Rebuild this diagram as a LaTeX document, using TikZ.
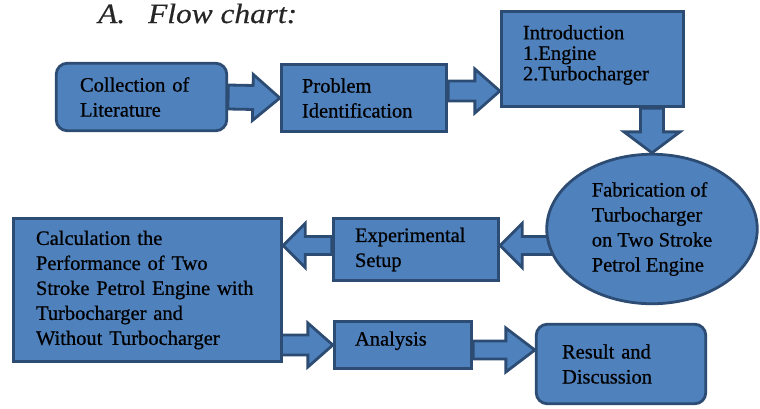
\documentclass[tikz,border=0pt]{standalone}
\usepackage{fontspec}
\setmainfont[FakeBold=0.7]{Liberation Serif}
\newfontfamily\titlefont[FakeStretch=1.12,FakeBold=0.5]{Liberation Serif}
\usetikzlibrary{shapes.geometric,calc}
\definecolor{boxblue}{HTML}{4F81BD}
\definecolor{boxline}{HTML}{2D4C73}
\pgfdeclarelayer{bg}
\pgfsetlayers{bg,main}
\tikzset{
  bkw/.store in=\bkW, bkh/.store in=\bkH, bkl/.store in=\bkL,
  bkw=10pt, bkh=22pt, bkl=25pt,
  boxbase/.style={draw=boxline, fill=boxblue, line width=2.8pt, text=black,
    font=\fontsize{20.5}{25}\selectfont, align=left},
  sqbox/.style={boxbase, rectangle},
  rbox/.style={boxbase, rectangle, rounded corners=11pt},
  ellbox/.style={boxbase, ellipse, inner sep=0pt},
  barrow/.style={draw=boxline, fill=boxblue, line width=2.8pt, line join=miter,
    to path={
      ($(\tikztostart)!\bkW!90:(\tikztotarget)$)
      -- ($($(\tikztotarget)!\bkL!(\tikztostart)$)!\bkW!90:(\tikztotarget)$)
      -- ($($(\tikztotarget)!\bkL!(\tikztostart)$)!\bkH!90:(\tikztotarget)$)
      -- (\tikztotarget)
      -- ($($(\tikztotarget)!\bkL!(\tikztostart)$)!\bkH!-90:(\tikztotarget)$)
      -- ($($(\tikztotarget)!\bkL!(\tikztostart)$)!\bkW!-90:(\tikztotarget)$)
      -- ($(\tikztostart)!\bkW!-90:(\tikztotarget)$)
      -- cycle}}
}
\begin{document}
\begin{tikzpicture}[x=1pt,y=-1pt]
\useasboundingbox (0,0) rectangle (760,408);

\node[anchor=base west, inner sep=0pt, font=\titlefont\itshape\fontsize{28}{30}\selectfont, text=black!85] (title) at (98,23) {A.\hspace{23pt}Flow chart:};

\node[rbox, minimum width=170.5pt, minimum height=67.5pt, inner xsep=23.75pt, text width=123pt] (b1) at (141.5,97) {Collection of\\Literature};
\node[sqbox, minimum width=165.5pt, minimum height=67.5pt, inner xsep=20.75pt, text width=124pt] (b2) at (364,98) {Problem\\Identification};
\node[sqbox, minimum width=182.5pt, minimum height=95.5pt, inner xsep=21.75pt, text width=139pt, font=\fontsize{20.5}{20.5}\selectfont] (b3) at (592.5,59) {Introduction\\1.Engine\\2.Turbocharger\\[-8pt]\mbox{}};
\node[ellbox, minimum width=210.5pt, minimum height=149.5pt] (ell) at (652,229) {Fabrication of\\Turbocharger\\on Two Stroke\\Petrol Engine};
\node[sqbox, minimum width=165.5pt, minimum height=62.5pt, inner xsep=21.75pt, text width=122pt] (exp) at (416,249.5) {Experimental\\Setup};
\node[sqbox, minimum width=268.5pt, minimum height=143.5pt, inner xsep=22.75pt, text width=223pt] (calc) at (147.5,290) {\mbox{Calculation the}\\\mbox{Performance of Two}\\\mbox{Stroke Petrol Engine with}\\\mbox{Turbocharger and}\\\mbox{Without Turbocharger}};
\node[sqbox, minimum width=137.5pt, minimum height=47.5pt, inner xsep=20.75pt, text width=96pt] (ana) at (403,345) {Analysis\\[-12pt]\mbox{}};
\node[rbox, minimum width=169.5pt, minimum height=79.5pt, inner xsep=25.75pt, text width=118pt] (res) at (621,364) {Result and\\Discussion};

\coordinate (a2s) at ([yshift=7pt]b2.east);
\coordinate (a4s) at ([yshift=4pt]exp.east);
\coordinate (a5s) at ([yshift=4pt]exp.west);
\coordinate (a7s) at ([yshift=-5pt]ana.east);

\begin{pgfonlayer}{bg}
\draw[barrow, bkw=12pt, bkh=23pt, bkl=27pt] (b1.east) to (b2.west);
\draw[barrow] (a2s) to (a2s -| b3.west);
\draw[barrow, bkw=11.5pt, bkh=28pt, bkl=21pt] (b3.south -| ell.north) to (ell.north);
\draw[barrow, bkw=9pt, bkl=22pt] (a4s -| ell.center) to (a4s);
\draw[barrow, bkw=9pt, bkl=22pt] (a5s) to (a5s -| calc.east);
\draw[barrow, bkw=10pt, bkl=25pt] (ana.west -| calc.center) to (ana.west);
\draw[barrow, bkw=9pt, bkl=29pt] (a7s) to (a7s -| res.west);
\end{pgfonlayer}
\end{tikzpicture}
\end{document}
